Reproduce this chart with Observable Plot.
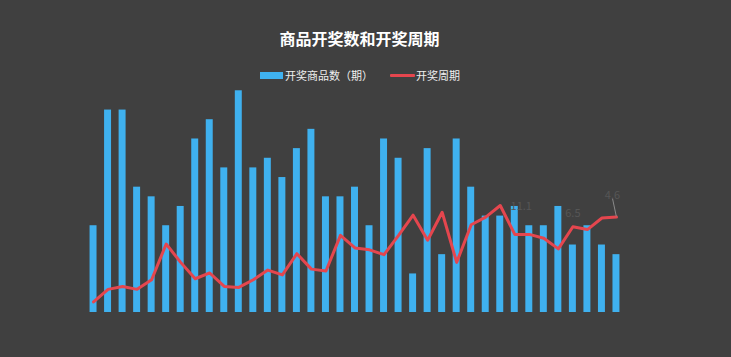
<!DOCTYPE html>
<html>
<head>
<meta charset="utf-8">
<script src="https://cdn.jsdelivr.net/npm/d3@7"></script>
<script src="https://cdn.jsdelivr.net/npm/@observablehq/plot@0.6"></script>
<style>
  html, body { margin: 0; padding: 0; background: #404040; }
  body { font-family: "Noto Sans CJK SC", "Noto Sans", sans-serif; }
  #wrap { position: relative; width: 731px; height: 357px; overflow: hidden; background: #404040; }
  #title { position: absolute; left: -6px; top: 26px; width: 731px; text-align: center; color: #ffffff;
           font-weight: bold; font-size: 16px; line-height: 24px; }
  #legend { position: absolute; left: 260px; top: 67px; display: flex;
            align-items: center; color: #eeeeee; font-size: 11px; line-height: 16px; }
  .sw-bar { width: 23px; height: 7px; background: #3fb1ef; margin-right: 2px; }
  .sw-line { width: 25px; height: 3px; background: #e5464e; border-radius: 1px; margin-right: 1px; margin-left: 17px; }
  #chart { position: absolute; left: 0; top: 0; }
</style>
</head>
<body>
<div id="wrap">
  <div id="chart"></div>
  <div id="title"></div>
  <div id="legend"></div>
</div>
<script>
const chartTitle = "商品开奖数和开奖周期";
const barSeriesName = "开奖商品数（期）";
const lineSeriesName = "开奖周期";

const periods = ["1","2","3","4","5","6","7","8","9","10","11","12","13","14","15","16","17","18","19",
                 "20","21","22","23","24","25","26","27","28","29","30","31","32","33","34","35","36","37"];
const prizeCounts = [9,21,21,13,12,9,11,18,20,15,23,15,16,14,17,19,12,12,13,
                     9,18,16,4,17,6,18,13,10,10,11,9,9,11,7,9,7,6];
const cycleValues = [1.1,2.4,2.7,2.4,3.4,7.1,5.2,3.5,4.1,2.7,2.6,3.4,4.4,3.9,6.1,4.5,4.3,8.0,6.7,
                     6.5,6.0,8.0,10.1,7.5,10.4,5.2,9.1,9.9,11.1,8.1,8.1,7.7,6.6,8.9,8.6,9.8,9.9];

// faint point labels seen in the picture
const labelPeriods = ["29", "34", "37"];
const labelTexts = ["11.1", "6.5", "4.6"];

document.getElementById("title").textContent = chartTitle;
const legend = document.getElementById("legend");
legend.innerHTML = `<div class="sw-bar"></div><span>${barSeriesName}</span><div class="sw-line"></div><span>${lineSeriesName}</span>`;

const table = periods.map((p, i) => ({period: p, count: prizeCounts[i], cycle: cycleValues[i]}));
const labels = labelPeriods.map((p, i) => ({period: p, text: labelTexts[i], cycle: cycleValues[periods.indexOf(p)]}));
const labelOffsets = {"29": [21, 1], "34": [0, -13], "37": [-4, -22]};

const chart = Plot.plot({
  width: 731,
  height: 357,
  marginLeft: 82,
  marginRight: 104,
  marginTop: 71,
  marginBottom: 45,
  style: {background: "transparent", fontFamily: "Noto Sans CJK SC, sans-serif"},
  x: {domain: periods, padding: 0.52, round: false, axis: null},
  y: {domain: [0, 25], axis: null},
  marks: [
    Plot.barY(table, {x: "period", y: "count", fill: "#3fb1ef"}),
    Plot.line(table, {x: "period", y: "cycle", stroke: "#e5464e", strokeWidth: 3, strokeLinejoin: "round", curve: "linear"}),
    Plot.vector(labels.filter(d => d.period === "37"), {
      x: "period", y: "cycle", anchor: "start", length: 19, rotate: -12, stroke: "#8a8a8a", strokeWidth: 1,
      shape: {draw(ctx, l) { ctx.moveTo(0, -1); ctx.lineTo(0, -l); }}
    }),
    ...labels.map(d => Plot.text([d], {
      x: "period", y: "cycle", text: "text", fill: "#565656", fontSize: 11,
      dx: labelOffsets[d.period][0], dy: labelOffsets[d.period][1]
    }))
  ]
});
document.getElementById("chart").appendChild(chart);
</script>
</body>
</html>
